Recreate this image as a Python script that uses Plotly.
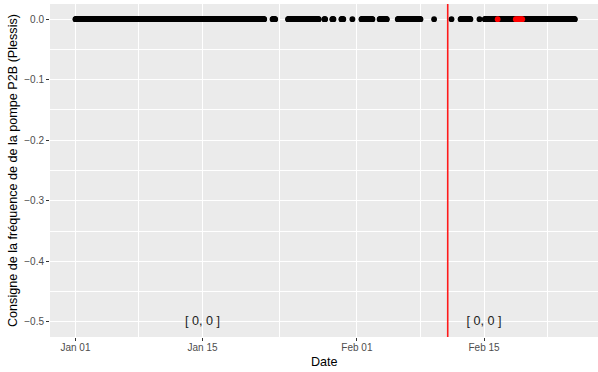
import pandas as pd
import plotly.graph_objects as go

# ---- data ----
# observation periods of the pump set-point (start, end); sampled hourly
seg_starts = ["2021-01-01 00:00", "2021-01-22 17:00", "2021-01-24 10:00", "2021-01-28 10:00",
              "2021-01-29 07:00", "2021-01-30 07:00", "2021-01-31 12:00", "2021-02-01 12:00",
              "2021-02-03 12:00", "2021-02-05 12:00", "2021-02-09 12:00", "2021-02-11 10:00",
              "2021-02-12 10:00", "2021-02-14 12:00", "2021-02-15 02:00"]
seg_ends = ["2021-01-21 19:00", "2021-01-23 00:00", "2021-01-27 19:00", "2021-01-28 12:00",
            "2021-01-29 10:00", "2021-01-30 12:00", "2021-01-31 12:00", "2021-02-02 17:00",
            "2021-02-04 07:00", "2021-02-08 00:00", "2021-02-09 12:00", "2021-02-11 10:00",
            "2021-02-13 12:00", "2021-02-14 12:00", "2021-02-25 00:00"]
sampling = "1h"
setpoint_value = 0.0

# flagged points (red)
red_dates = ["2021-02-16 12:00", "2021-02-18 12:00", "2021-02-18 17:00",
             "2021-02-18 22:00", "2021-02-19 02:00", "2021-02-19 05:00"]
red_values = [0.0, 0.0, 0.0, 0.0, 0.0, 0.0]

vline_date = "2021-02-11 00:00"

label_dates = ["2021-01-15", "2021-02-15"]
label_values = [-0.5, -0.5]
label_texts = ["[ 0, 0 ]", "[ 0, 0 ]"]

x_tick_vals = ["2021-01-01", "2021-01-15", "2021-02-01", "2021-02-15"]
x_minor_vals = ["2021-01-08", "2021-01-23 12:00", "2021-02-08", "2021-02-22"]
y_tick_vals = [0.0, -0.1, -0.2, -0.3, -0.4, -0.5]
y_minor_vals = [-0.05, -0.15, -0.25, -0.35, -0.45]

x_range = ["2020-12-29 04:48", "2021-02-27 13:12"]
y_range = [-0.525, 0.025]

# ---- build series ----
dates = []
for s, e in zip(seg_starts, seg_ends):
    dates.extend(pd.date_range(s, e, freq=sampling))
values = [setpoint_value] * len(dates)

FONT = "Liberation Sans, Arial, sans-serif"

fig = go.Figure()
fig.add_trace(go.Scatter(x=dates, y=values, mode="markers",
                         marker=dict(color="black", size=5.8, line=dict(width=0)),
                         showlegend=False, hoverinfo="skip"))
fig.add_trace(go.Scatter(x=pd.to_datetime(red_dates), y=red_values, mode="markers",
                         marker=dict(color="#FF0000", size=5.8, line=dict(width=0)),
                         showlegend=False, hoverinfo="skip"))
fig.add_trace(go.Scatter(x=pd.to_datetime(label_dates), y=label_values, mode="text",
                         text=label_texts, textposition="middle center",
                         textfont=dict(family=FONT, size=12.6, color="#222222"),
                         showlegend=False, hoverinfo="skip"))

fig.add_shape(type="line", xref="x", yref="paper", x0=vline_date, x1=vline_date,
              y0=0, y1=1, line=dict(color="#FF1A1A", width=1.6), layer="above")

fig.update_layout(
    width=598, height=372,
    margin=dict(l=50, r=0, t=4, b=35),
    paper_bgcolor="white", plot_bgcolor="#EBEBEB",
    font=dict(family=FONT),
    showlegend=False,
    annotations=[
        dict(text="Date", xref="paper", yref="paper", x=0.5, y=-0.0736,
             xanchor="center", yanchor="middle", showarrow=False,
             font=dict(family=FONT, size=12.6, color="black")),
        dict(text="Consigne de la fréquence de de la pompe P2B (Plessis)",
             xref="paper", yref="paper", x=-0.0684, y=0.5, textangle=-90,
             xanchor="center", yanchor="middle", showarrow=False,
             font=dict(family=FONT, size=12.6, color="black")),
    ],
)

fig.update_xaxes(
    type="date", range=x_range,
    tickmode="array", tickvals=x_tick_vals, tickformat="%b %d",
    ticks="outside", ticklen=3, tickwidth=1, tickcolor="#333333",
    ticklabelstandoff=-2,
    tickfont=dict(family=FONT, size=10, color="#4D4D4D"),
    showgrid=True, gridcolor="white", gridwidth=1.1,
    minor=dict(tickmode="array", tickvals=x_minor_vals, showgrid=True,
               gridcolor="white", gridwidth=0.55, ticks=""),
    zeroline=False, showline=False,
)
fig.update_yaxes(
    range=y_range,
    tickmode="array", tickvals=y_tick_vals, tickformat=".1f",
    ticks="outside", ticklen=3, tickwidth=1, tickcolor="#333333",
    tickfont=dict(family=FONT, size=10, color="#4D4D4D"),
    showgrid=True, gridcolor="white", gridwidth=1.1,
    minor=dict(tickmode="array", tickvals=y_minor_vals, showgrid=True,
               gridcolor="white", gridwidth=0.55, ticks=""),
    zeroline=False, showline=False,
)

fig.write_html("out.html", config={"displayModeBar": False},
               post_script="document.body.style.margin='0';document.body.style.padding='0';")
